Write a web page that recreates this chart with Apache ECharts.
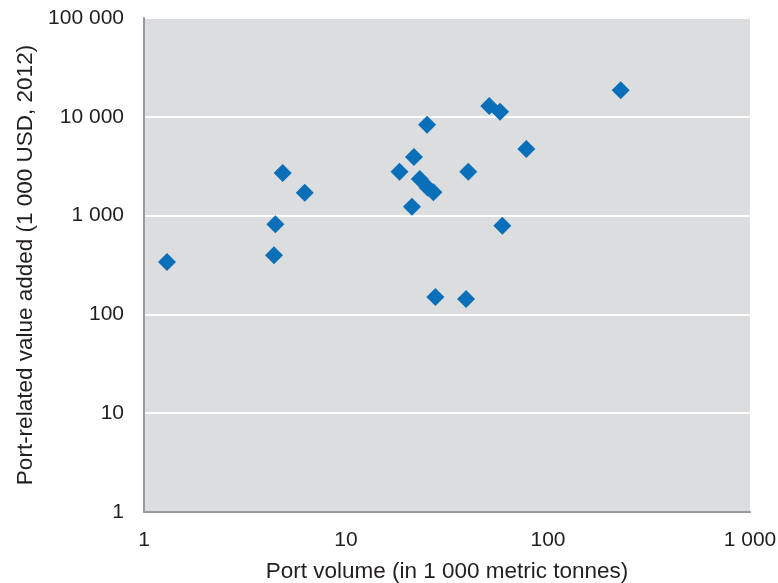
<!DOCTYPE html>
<html><head><meta charset="utf-8">
<script src="https://cdn.jsdelivr.net/npm/echarts@6/dist/echarts.min.js"></script>
<style>html,body{margin:0;padding:0;background:#fff}#c{width:778px;height:583px}</style>
</head><body><div id="c"></div>
<script>
// Port volume (1 000 metric tonnes)
const portVolume = [1.3, 4.86, 6.25, 4.47, 4.40, 18.4, 21.7, 25.2, 23.2, 25.4, 27.1, 21.2, 27.7, 39.3, 40.3, 51.2, 57.9, 78.1, 59.4, 229];
// Port-related value added (1 000 USD, 2012)
const valueAdded = [339, 2700, 1706, 817, 396, 2780, 3920, 8320, 2345, 1918, 1721, 1231, 150, 143, 2780, 12860, 11270, 4720, 790, 18540];
const xTitle = 'Port volume (in 1 000 metric tonnes)';
const yTitle = 'Port-related value added (1 000 USD, 2012)';

const fmt = v => String(Math.round(v)).replace(/\B(?=(\d{3})+(?!\d))/g, ' ');
const font = '"Liberation Sans", Arial, sans-serif';
const txt = '#231f20';
const chart = echarts.init(document.getElementById('c'), null, {renderer: 'canvas'});
chart.setOption({
  animation: false,
  grid: {left: 144, top: 18, right: 28, bottom: 71, containLabel: false, outerBoundsMode: 'none',
         show: true, backgroundColor: '#dcdddf', borderWidth: 0},
  xAxis: {
    type: 'log', logBase: 10, min: 1, max: 1000,
    name: xTitle, nameLocation: 'middle', nameGap: 48,
    nameTextStyle: {fontFamily: font, fontSize: 22.5, color: txt},
    axisLine: {show: true, lineStyle: {color: '#9a9a9c', width: 2}},
    axisTick: {show: false},
    splitLine: {show: false},
    axisLabel: {formatter: fmt, fontFamily: font, fontSize: 21, color: txt, margin: 18}
  },
  yAxis: {
    type: 'log', logBase: 10, min: 1, max: 100000,
    name: yTitle, nameLocation: 'middle', nameGap: 107, nameRotate: 90,
    nameTextStyle: {fontFamily: font, fontSize: 22.5, color: txt},
    axisLine: {show: true, lineStyle: {color: '#9a9a9c', width: 2}},
    axisTick: {show: false},
    splitLine: {show: true, lineStyle: {color: '#ffffff', width: 2}},
    axisLabel: {formatter: fmt, fontFamily: font, fontSize: 21, color: txt, margin: 20}
  },
  series: [{
    type: 'scatter',
    symbol: 'diamond',
    symbolSize: 18,
    itemStyle: {color: '#0a6fb9', opacity: 1},
    data: portVolume.map((x, i) => [x, valueAdded[i]])
  }]
});
</script></body></html>
